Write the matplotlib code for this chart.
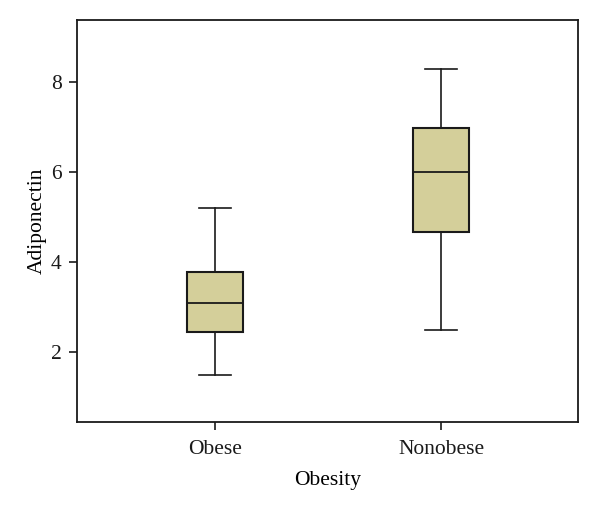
import matplotlib
matplotlib.use("Agg")
import matplotlib.pyplot as plt

categories = ["Obese", "Nonobese"]
whislo = [1.5, 2.5]
q1 = [2.45, 4.68]
med = [3.1, 6.0]
q3 = [3.78, 6.98]
whishi = [5.2, 8.28]

plt.rcParams['font.family'] = ['Liberation Serif', 'DejaVu Serif']

fig = plt.figure(figsize=(6.0, 5.12), dpi=100)
ax = fig.add_axes([77/600, 1-421.5/512, (578-77)/600, (421.5-20)/512])

stats = [dict(label=c, whislo=a, q1=b, med=m, q3=d, whishi=e, fliers=[])
         for c, a, b, m, d, e in zip(categories, whislo, q1, med, q3, whishi)]
ax.bxp(stats, positions=[1, 2], widths=0.25, patch_artist=True, showfliers=False,
       boxprops=dict(facecolor='#d4cf9a', edgecolor='#1a1a1a', linewidth=1.5),
       medianprops=dict(color='#1a1a1a', linewidth=1.3),
       whiskerprops=dict(color='#1a1a1a', linewidth=1.2),
       capprops=dict(color='#1a1a1a', linewidth=1.2), capwidths=0.14)

ax.set_xlim(0.39, 2.605)
ax.set_ylim(0.467, 9.378)
ax.set_yticks([2, 4, 6, 8])
ax.set_xticks([1, 2])
ax.set_xticklabels(categories)
ax.tick_params(axis='both', direction='out', length=6, width=1.2, labelsize=15.5, colors='#1a1a1a')
ax.tick_params(axis='x', pad=7)
ax.tick_params(axis='y', pad=5)
for s in ax.spines.values():
    s.set_linewidth(1.3)
    s.set_color('#1a1a1a')
ax.set_xlabel("Obesity", fontsize=15.5, labelpad=9)
ax.set_ylabel("Adiponectin", fontsize=15.5, labelpad=3)

fig.savefig("out.png", dpi=100)
